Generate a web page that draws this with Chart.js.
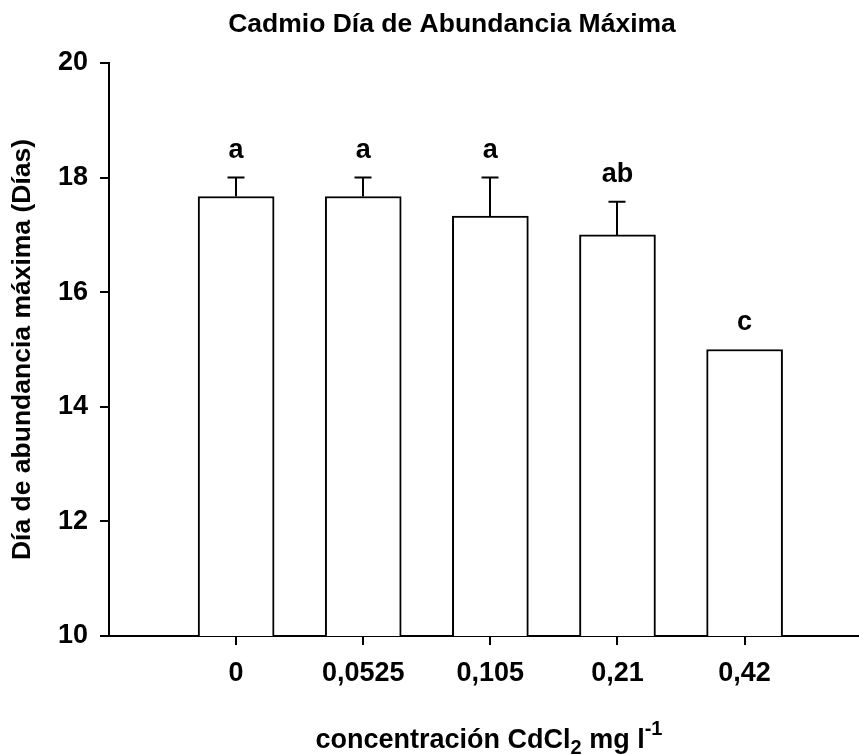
<!DOCTYPE html>
<html><head><meta charset="utf-8">
<script src="https://cdn.jsdelivr.net/npm/chart.js@4"></script>
<style>html,body{margin:0;padding:0;background:#fff;}</style>
</head><body>
<canvas id="c" width="859" height="755" style="display:block;width:859px;height:755px"></canvas>
<script>
// ---- data ----
const categories = ['0', '0,0525', '0,105', '0,21', '0,42'];
const means = [17.67, 17.67, 17.33, 17.0, 15.0];
const errors = [0.33, 0.33, 0.67, 0.58, 0];
const letters = ['a', 'a', 'a', 'ab', 'c'];
const yMin = 10, yMax = 20, yStep = 2;
const chartTitle = 'Cadmio Día de Abundancia Máxima';
const yTitle = 'Día de abundancia máxima (Días)';
const xTitleParts = [
  {t: 'concentración CdCl', k: 'n'},
  {t: '2', k: 'sub'},
  {t: ' mg l', k: 'n'},
  {t: '-1', k: 'sup'}
];

const FAM = '"Liberation Sans", Arial, Helvetica, sans-serif';

const errorBars = {
  id: 'errorBars',
  afterDatasetsDraw(chart) {
    const {ctx, scales: {x, y}} = chart;
    ctx.save();
    ctx.strokeStyle = '#000';
    ctx.lineWidth = 2;
    means.forEach((m, i) => {
      const e = errors[i];
      if (!e) return;
      const px = Math.round(x.getPixelForValue(i + 1));
      const top = y.getPixelForValue(m + e);
      const base = y.getPixelForValue(m);
      ctx.beginPath();
      ctx.moveTo(px, base); ctx.lineTo(px, top);
      ctx.moveTo(px - 8.5, top); ctx.lineTo(px + 8.5, top);
      ctx.stroke();
    });
    ctx.restore();
  }
};

const sigLetters = {
  id: 'sigLetters',
  afterDatasetsDraw(chart) {
    const {ctx, scales: {x, y}} = chart;
    ctx.save();
    ctx.fillStyle = '#000';
    ctx.font = 'bold 27px ' + FAM;
    ctx.textAlign = 'center';
    ctx.textBaseline = 'alphabetic';
    means.forEach((m, i) => {
      const px = x.getPixelForValue(i + 1);
      const py = y.getPixelForValue(m + errors[i]) - 20;
      ctx.fillText(letters[i], px, py);
    });
    ctx.restore();
  }
};

const texts = {
  id: 'texts',
  afterDraw(chart) {
    const ctx = chart.ctx;
    ctx.save();
    ctx.fillStyle = '#000';
    ctx.textBaseline = 'alphabetic';
    ctx.font = 'bold 26.5px ' + FAM;
    ctx.textAlign = 'center';
    ctx.fillText(chartTitle, 452, 32);
    ctx.textAlign = 'left';
    const mainF = 'bold 27px ' + FAM, smallF = 'bold 20px ' + FAM;
    let total = 0;
    xTitleParts.forEach(p => { ctx.font = p.k === 'n' ? mainF : smallF; p.w = ctx.measureText(p.t).width; total += p.w; });
    let cx = 489 - total / 2;
    const base = 748;
    xTitleParts.forEach(p => {
      ctx.font = p.k === 'n' ? mainF : smallF;
      const dy = p.k === 'sub' ? 6 : (p.k === 'sup' ? -13 : 0);
      ctx.fillText(p.t, cx, base + dy);
      cx += p.w;
    });
    ctx.restore();
  }
};

new Chart(document.getElementById('c'), {
  type: 'bar',
  data: {
    datasets: [{
      data: means.map((v, i) => ({x: i + 1, y: v})),
      backgroundColor: '#ffffff',
      borderColor: '#000000',
      borderWidth: 2,
      barThickness: 76
    }]
  },
  options: {
    responsive: false,
    devicePixelRatio: 1,
    animation: false,
    layout: {padding: {top: 63, left: 0, right: 0, bottom: 0}},
    plugins: {legend: {display: false}, tooltip: {enabled: false}, title: {display: false}},
    scales: {
      x: {
        type: 'linear',
        offset: false,
        min: 0, max: 5.9,
        afterBuildTicks(s) { s.ticks = categories.map((_, i) => ({value: i + 1})); },
        afterFit(s) { s.height = 119; },
        ticks: {
          callback: (v) => categories[v - 1],
          color: '#000', font: {family: FAM, size: 27, weight: 'bold'},
          padding: 12, maxRotation: 0, autoSkip: false
        },
        grid: {offset: false, drawOnChartArea: false, tickLength: 9, color: '#000', lineWidth: 2},
        border: {color: '#000', width: 2}
      },
      y: {
        min: yMin, max: yMax,
        afterFit(s) { s.width = 109; },
        ticks: {stepSize: yStep, color: '#000', font: {family: FAM, size: 27, weight: 'bold'}, padding: 12},
        grid: {drawOnChartArea: false, tickLength: 9, color: '#000', lineWidth: 2},
        border: {color: '#000', width: 2},
        title: {display: true, text: yTitle, color: '#000', font: {family: FAM, size: 26.5, weight: 'bold'}, padding: {top: 7, bottom: 0}}
      }
    }
  },
  plugins: [errorBars, sigLetters, texts]
});
</script>
</body></html>
